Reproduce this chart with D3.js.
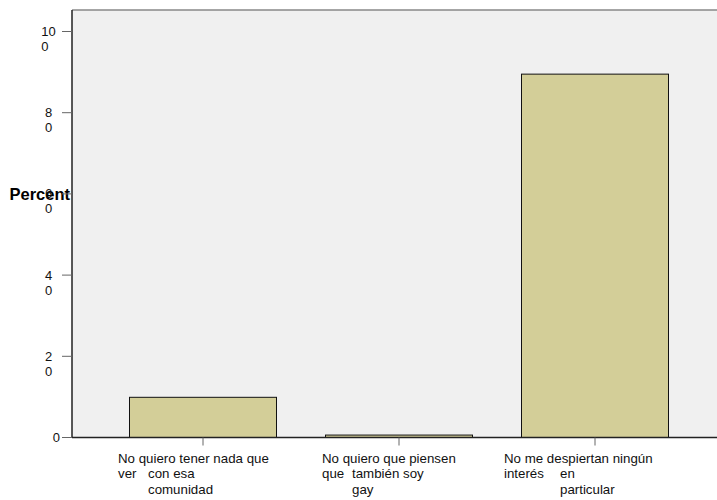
<!DOCTYPE html>
<html><head><meta charset="utf-8">
<script src="https://cdn.jsdelivr.net/npm/d3@7"></script>
<style>body{margin:0;background:#fff}svg{display:block;font-family:Arial,"Liberation Sans",sans-serif}</style>
</head><body><svg id="c" width="717" height="500"></svg>
<script>
// ---- data ----
const categories = ["c1", "c2", "c3"];
const values = [9.9, 0.6, 89.5];
// label text split as rendered: line1, then [first word, indented rest], then indented last line
const labelLine1 = ["No quiero tener nada que", "No quiero que piensen", "No me despiertan ningún"];
const labelLine2a = ["ver", "que", "interés"];
const labelLine2b = ["con esa", "también soy", "en"];
const labelLine3 = ["comunidad", "gay", "particular"];
const yTicks = [0, 20, 40, 60, 80, 100];
const yTitle = "Percent";

// ---- layout ----
const W = 717, H = 500;
const plotL = 72, plotT = 10, plotR = 717, plotB = 437.5;
const labelDx = [-85, -77, -91];
const indent = [30, 30, 56];

const svg = d3.select("#c");
const x = d3.scaleBand().domain(categories).range([80.5, 717.5]).paddingInner(0.25).paddingOuter(0.25);
const y = d3.scaleLinear().domain([0, 100]).range([plotB, 31.5]);

// y title (drawn first so the plot area overlaps its end, as in the reference)
svg.append("text").attr("x", 9.5).attr("y", 199.5).attr("font-size", 16.5).attr("font-weight", "bold").attr("fill", "#000").text(yTitle);

svg.append("rect").attr("x", plotL).attr("y", plotT).attr("width", plotR - plotL).attr("height", plotB - plotT).attr("fill", "#f0f0f0");
svg.append("line").attr("x1", plotL).attr("x2", plotR).attr("y1", plotT).attr("y2", plotT).attr("stroke", "#888").attr("stroke-width", 1.5);

// bars
svg.selectAll("rect.bar").data(values).join("rect").attr("class", "bar")
  .attr("x", (d, i) => x(categories[i]))
  .attr("width", x.bandwidth())
  .attr("y", d => y(d))
  .attr("height", d => y(0) - y(d))
  .attr("fill", "#d3ce98").attr("stroke", "#111").attr("stroke-width", 1);

// axes lines
svg.append("line").attr("x1", plotL).attr("x2", plotL).attr("y1", plotT).attr("y2", plotB).attr("stroke", "#222").attr("stroke-width", 1.5);
svg.append("line").attr("x1", plotL).attr("x2", plotR).attr("y1", plotB).attr("y2", plotB).attr("stroke", "#222").attr("stroke-width", 1.5);

// y ticks
const yt = svg.append("g");
yTicks.forEach(t => {
  const yy = y(t);
  yt.append("line").attr("x1", 62).attr("x2", plotL).attr("y1", yy).attr("y2", yy).attr("stroke", "#666");
  const s = String(t);
  if (s.length === 1) {
    yt.append("text").attr("x", 60).attr("y", yy + 4.5).attr("text-anchor", "end").attr("font-size", 13).attr("fill", "#111").text(s);
  } else {
    const first = s.slice(0, -1), last = s.slice(-1);
    const tmp = yt.append("text").attr("font-size", 13).attr("fill", "#111").text(first);
    const w = tmp.node().getComputedTextLength();
    const x0 = 48.5 - w / 2;
    tmp.attr("x", x0).attr("y", yy + 4.5);
    yt.append("text").attr("x", x0).attr("y", yy + 19.5).attr("font-size", 13).attr("fill", "#111").text(last);
  }
});

// x ticks & labels
const xt = svg.append("g");
categories.forEach((c, i) => {
  const cx = x(c) + x.bandwidth() / 2;
  xt.append("line").attr("x1", cx).attr("x2", cx).attr("y1", plotB).attr("y2", plotB + 8).attr("stroke", "#666");
  const sx = cx + labelDx[i];
  const g = xt.append("g").attr("font-size", 13.3).attr("fill", "#111");
  g.append("text").attr("x", sx).attr("y", 462.5).text(labelLine1[i]);
  g.append("text").attr("x", sx).attr("y", 478).text(labelLine2a[i]);
  g.append("text").attr("x", sx + indent[i]).attr("y", 478).text(labelLine2b[i]);
  g.append("text").attr("x", sx + indent[i]).attr("y", 493.5).text(labelLine3[i]);
});
</script></body></html>
